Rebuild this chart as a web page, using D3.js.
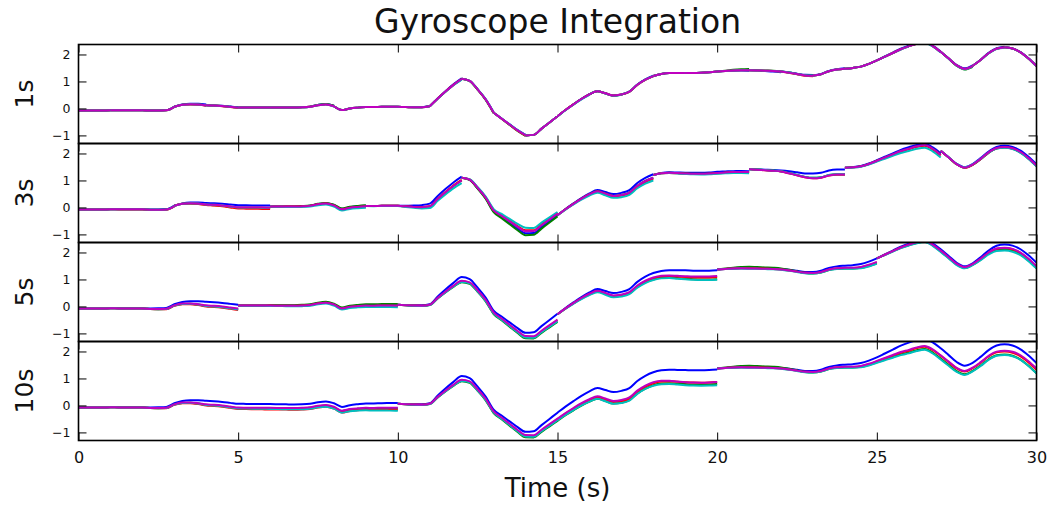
<!DOCTYPE html>
<html>
<head>
<meta charset="utf-8">
<script src="https://cdn.jsdelivr.net/npm/d3@7/dist/d3.min.js"></script>
<style>
body { margin: 0; background: #fff; }
svg text { font-family: "DejaVu Sans", sans-serif; }
</style>
</head>
<body>
<script>
// reference angle, one value every 0.25 s from 0 to 30 s
var sampleStep = 0.25;
var baseAngle = [
  -0.08, -0.08, -0.08, -0.08, -0.07, -0.07, -0.07, -0.07, -0.07, -0.08, -0.08, -0.07,
   0.06,  0.14,  0.16,  0.15,  0.12,  0.11,  0.09,  0.06,  0.03,  0.03,  0.03,  0.03,
   0.03,  0.03,  0.03,  0.03,  0.04,  0.06,  0.12,  0.15,  0.08, -0.06,  0.00,  0.03,
   0.05,  0.05,  0.06,  0.06,  0.06,  0.05,  0.04,  0.04,  0.08,  0.37,  0.64,  0.89,
   1.10,  1.02,  0.70,  0.33, -0.16, -0.38, -0.60, -0.82, -1.00, -0.98, -0.75, -0.52,
  -0.29, -0.06,  0.15,  0.35,  0.52,  0.64,  0.56,  0.48,  0.52,  0.62,  0.88,  1.07,
   1.20,  1.28,  1.31,  1.31,  1.31,  1.31,  1.32,  1.34,  1.37,  1.39,  1.41,  1.42,
   1.42,  1.41,  1.40,  1.39,  1.37,  1.33,  1.28,  1.23,  1.22,  1.27,  1.38,  1.44,
   1.47,  1.50,  1.55,  1.65,  1.78,  1.92,  2.06,  2.20,  2.31,  2.40,  2.45,  2.32,
   2.10,  1.85,  1.60,  1.47,  1.58,  1.80,  2.05,  2.22,  2.27,  2.22,  2.08,  1.85,
   1.57
];

// panels and how often the integration is reset (s)
var panelNames = ["1s", "3s", "5s", "10s"];
var resetPeriods = [1, 3, 5, 10];
var xTicks = [0, 5, 10, 15, 20, 25, 30];
var yTicks = [-1, 0, 1, 2];

// drift of each gyro away from the reference, read at the end of every second (t = 1..30)
// rows: blue, green, red, cyan, magenta
var drift1s = [
  [0, 0, 0.01, 0.03, 0.01, 0, 0, 0.02, 0, 0, 0.01, 0.02, 0.01, 0.02, 0, 0.01, 0, 0.01, 0, 0, -0.02, -0.03, 0.02, 0.02, 0, 0.02, 0.01, 0.02, 0.02, 0.01],
  [0, 0, 0, -0.01, 0, 0, 0, 0.02, 0, 0, 0, -0.02, -0.02, -0.02, 0, 0, -0.01, 0, 0, 0, 0.04, 0.01, 0, 0, 0, -0.01, -0.02, -0.04, -0.01, 0],
  [0, 0, 0, -0.02, -0.01, 0, 0, 0, 0, 0, 0, -0.01, 0, -0.01, 0, 0, 0, -0.01, 0, 0, 0, 0, -0.03, 0, 0, -0.01, -0.01, -0.01, -0.01, -0.01],
  [0, 0, 0, -0.01, 0, 0, 0, -0.01, 0, 0, 0, -0.03, 0.02, 0.02, 0, -0.02, -0.01, 0, 0, 0, 0, 0, 0, 0, 0, -0.02, -0.03, -0.02, -0.02, -0.01],
  [0, 0, 0, -0.01, 0, 0, 0, 0, 0, 0, 0, -0.01, 0.01, 0.01, 0, 0, 0, 0, 0, 0, 0, 0, -0.01, 0, 0, -0.01, -0.01, -0.01, -0.01, 0]
];
var drift3s = [
  [0, 0, 0.01, 0.04, 0.05, 0.04, 0, 0.01, 0.01, 0, 0.06, 0.04, 0.02, 0.04, 0, 0, 0.02, 0.03, -0.02, -0.05, -0.08, 0, 0.04, -0.06, -0.03, -0.08, -0.1, 0.03, 0.02, 0.03],
  [0, 0, -0.01, -0.02, -0.04, -0.05, 0.01, 0.02, 0.03, 0, -0.05, -0.1, -0.01, -0.03, -0.04, -0.03, -0.06, -0.1, -0.05, -0.1, -0.12, -0.03, -0.12, -0.24, -0.05, -0.14, -0.15, 0, -0.05, -0.04],
  [0, -0.01, -0.02, -0.03, -0.07, -0.09, 0, -0.01, -0.02, 0, -0.04, -0.08, 0.06, 0.15, 0.08, -0.04, -0.08, -0.15, -0.06, -0.1, -0.12, -0.04, -0.14, -0.26, -0.06, -0.15, -0.17, 0, -0.04, -0.03],
  [0, 0, -0.01, -0.01, -0.03, -0.04, -0.02, -0.05, -0.06, -0.01, -0.1, -0.2, 0.1, 0.25, 0.12, -0.08, -0.14, -0.2, -0.07, -0.12, -0.15, -0.03, -0.12, -0.24, -0.08, -0.22, -0.25, 0.02, -0.06, -0.05],
  [0, 0, -0.01, -0.01, -0.02, -0.03, 0, -0.01, -0.01, 0, -0.04, -0.1, 0.05, 0.12, 0.06, -0.03, -0.06, -0.1, -0.05, -0.09, -0.11, -0.04, -0.14, -0.25, -0.05, -0.13, -0.15, 0.01, -0.03, -0.02]
];
var drift5s = [
  [0, 0, 0.02, 0.05, 0.03, 0, 0, -0.01, -0.02, -0.03, 0, -0.01, 0, 0.02, 0.02, 0, 0.02, 0.04, 0.03, -0.03, 0, 0.02, 0.06, 0.04, 0, 0.02, 0.02, 0.02, 0.03, 0.05],
  [0, -0.01, -0.03, -0.1, -0.13, 0.01, 0.02, 0.02, 0.03, 0.03, -0.03, -0.2, -0.12, -0.18, -0.28, -0.08, -0.12, -0.2, -0.28, -0.36, 0.05, 0.04, 0, -0.06, -0.18, -0.04, -0.06, -0.04, -0.15, -0.15],
  [0, -0.01, -0.04, -0.12, -0.16, 0, -0.01, -0.02, -0.03, -0.04, -0.02, -0.17, -0.08, -0.13, -0.22, -0.06, -0.1, -0.16, -0.22, -0.28, 0, 0, 0.02, -0.05, -0.15, -0.02, -0.04, -0.02, -0.1, -0.1],
  [0, -0.01, -0.03, -0.1, -0.14, -0.01, -0.03, -0.05, -0.07, -0.09, -0.03, -0.19, -0.1, -0.15, -0.26, -0.1, -0.15, -0.22, -0.3, -0.38, -0.02, -0.01, 0, -0.07, -0.2, -0.05, -0.08, -0.05, -0.2, -0.16],
  [0, -0.01, -0.02, -0.08, -0.11, 0, -0.01, -0.01, -0.02, -0.03, -0.02, -0.15, -0.06, -0.1, -0.2, -0.05, -0.08, -0.13, -0.19, -0.24, -0.01, 0, 0.02, -0.04, -0.13, -0.02, -0.03, -0.01, -0.09, -0.08]
];
var drift10s = [
  [0, 0, 0.02, 0.05, 0.03, 0.02, 0, 0, 0.02, 0.03, 0, -0.01, 0, 0.02, 0.02, 0, 0.02, 0.03, 0, -0.04, 0, 0.02, 0.06, 0.04, 0, 0.02, 0.02, 0, 0, 0],
  [0, -0.01, -0.03, -0.1, -0.13, -0.14, -0.15, -0.15, -0.16, -0.17, -0.03, -0.2, -0.12, -0.18, -0.28, -0.38, -0.42, -0.45, -0.52, -0.58, 0.05, 0.04, 0, -0.06, -0.18, -0.35, -0.36, -0.3, -0.38, -0.38],
  [0, -0.01, -0.04, -0.12, -0.16, -0.18, -0.19, -0.2, -0.21, -0.22, -0.02, -0.17, -0.08, -0.13, -0.22, -0.32, -0.36, -0.38, -0.45, -0.5, 0, 0, 0.02, -0.05, -0.15, -0.28, -0.26, -0.2, -0.27, -0.25],
  [0, -0.01, -0.03, -0.1, -0.14, -0.16, -0.18, -0.2, -0.23, -0.26, -0.03, -0.19, -0.1, -0.15, -0.26, -0.38, -0.43, -0.47, -0.56, -0.62, -0.02, -0.01, 0, -0.07, -0.2, -0.38, -0.4, -0.32, -0.4, -0.38],
  [0, -0.01, -0.02, -0.08, -0.11, -0.12, -0.13, -0.13, -0.14, -0.15, -0.02, -0.15, -0.06, -0.1, -0.2, -0.29, -0.32, -0.34, -0.45, -0.5, -0.01, 0, 0.02, -0.04, -0.13, -0.25, -0.24, -0.18, -0.24, -0.2]
];
var drifts = [drift1s, drift3s, drift5s, drift10s];

var colors = ["#0000ff", "#008000", "#ff0000", "#00bfbf", "#bf00bf"];

var width = 1049, height = 508;
var plotLeft = 78.5, plotRight = 1036.5, plotTop = 44.5, panelH = 99;

var svg = d3.select("body").append("svg")
  .attr("width", width)
  .attr("height", height);

var x = d3.scaleLinear().domain([0, 30]).range([plotLeft, plotRight]);
var y = d3.scaleLinear().domain([-1.3, 2.37]).range([panelH, 0]);

// drift at time t inside the segment that was reset at r
function driftAt(d, r, t) {
  if (t <= r) return 0;
  var lo = Math.floor(t), f = t - lo;
  if (f === 0) return d[lo - 1];
  var a = lo === r ? 0 : d[lo - 1];
  var b = d[lo];
  return a + (b - a) * f;
}

var line = d3.line()
  .x(function(d) { return x(d[0]); })
  .y(function(d) { return y(d[1]); })
  .curve(d3.curveMonotoneX);

panelNames.forEach(function(name, p) {
  var g = svg.append("g")
    .attr("transform", "translate(0," + (plotTop + p * panelH) + ")");

  g.append("clipPath").attr("id", "clip" + p)
    .append("rect")
    .attr("x", plotLeft).attr("y", 0)
    .attr("width", plotRight - plotLeft).attr("height", panelH);

  var lines = g.append("g").attr("clip-path", "url(#clip" + p + ")");
  var period = resetPeriods[p];

  drifts[p].forEach(function(d, s) {
    for (var r = 0; r < 30; r += period) {
      var pts = [];
      for (var i = r / sampleStep; i <= Math.min(r + period, 30) / sampleStep; i++) {
        var t = i * sampleStep;
        pts.push([t, baseAngle[i] + driftAt(d, r, t)]);
      }
      lines.append("path")
        .attr("d", line(pts))
        .attr("fill", "none")
        .attr("stroke", colors[s])
        .attr("stroke-width", 2)
        .attr("stroke-linejoin", "round");
    }
  });

  // inward ticks on all four sides
  var left = g.append("g")
    .attr("transform", "translate(" + plotLeft + ",0)")
    .call(d3.axisLeft(y).tickValues(yTicks).tickFormat(d3.format("d"))
      .tickSizeInner(-8).tickSizeOuter(0).tickPadding(8));
  left.selectAll("text").attr("font-size", 12.5).attr("fill", "#111");

  g.append("g")
    .attr("transform", "translate(" + plotRight + ",0)")
    .call(d3.axisRight(y).tickValues(yTicks).tickSizeInner(-8).tickSizeOuter(0).tickFormat(""));

  g.append("g")
    .call(d3.axisTop(x).tickValues(xTicks).tickSizeInner(-8).tickSizeOuter(0).tickFormat(""));

  var bottom = g.append("g")
    .attr("transform", "translate(0," + panelH + ")")
    .call(d3.axisBottom(x).tickValues(xTicks).tickSizeInner(-8).tickSizeOuter(0).tickPadding(11));
  if (p < panelNames.length - 1) {
    bottom.selectAll("text").remove();
  } else {
    bottom.selectAll("text").attr("font-size", 16).attr("fill", "#111");
  }

  g.selectAll(".domain").remove();
  g.selectAll(".tick line").attr("stroke", "#000").attr("stroke-width", 1);

  g.append("rect")
    .attr("x", plotLeft).attr("y", 0)
    .attr("width", plotRight - plotLeft).attr("height", panelH)
    .attr("fill", "none")
    .attr("stroke", "#000")
    .attr("stroke-width", 1.6);

  g.append("text")
    .attr("transform", "translate(33," + (panelH / 2) + ")rotate(-90)")
    .attr("text-anchor", "middle")
    .attr("font-size", 25)
    .attr("fill", "#111")
    .text(name);
});

svg.append("text")
  .attr("x", (plotLeft + plotRight) / 2)
  .attr("y", 33)
  .attr("text-anchor", "middle")
  .attr("font-size", 33)
  .attr("fill", "#111")
  .text("Gyroscope Integration");

svg.append("text")
  .attr("x", (plotLeft + plotRight) / 2)
  .attr("y", 497)
  .attr("text-anchor", "middle")
  .attr("font-size", 26)
  .attr("fill", "#111")
  .text("Time (s)");
</script>
</body>
</html>
